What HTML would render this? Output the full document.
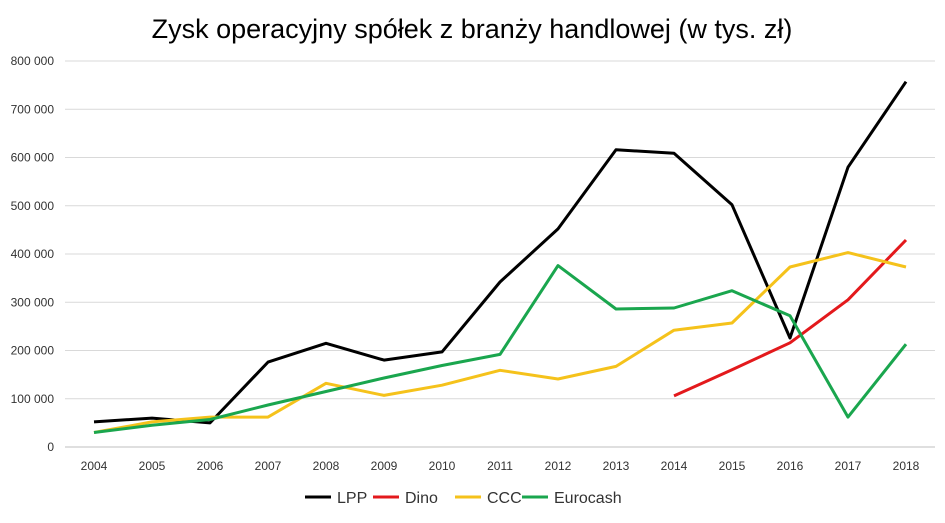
<!DOCTYPE html>
<html><head><meta charset="utf-8"><style>
body{margin:0;background:#fff;font-family:"Liberation Sans",sans-serif;}
svg text{font-family:"Liberation Sans",sans-serif;}
</style></head><body>
<svg id="chart" width="945" height="518" viewBox="0 0 945 518" xmlns="http://www.w3.org/2000/svg">
<text x="472" y="38" text-anchor="middle" font-size="27" fill="#000">Zysk operacyjny spółek z branży handlowej (w tys. zł)</text>
<g id="grid"></g><g id="yticks"></g><g id="xticks"></g><g id="series"></g><g id="legend"></g>
</svg>
<script>
const years=[2004,2005,2006,2007,2008,2009,2010,2011,2012,2013,2014,2015,2016,2017,2018];
const yTicks=[0,100000,200000,300000,400000,500000,600000,700000,800000];
const yTickLabels=["0","100 000","200 000","300 000","400 000","500 000","600 000","700 000","800 000"];
const lpp=[52000,60000,50000,176000,215000,180000,197000,342000,452000,616000,609000,502000,226000,580000,757000];
const dino=[null,null,null,null,null,null,null,null,null,null,106000,160000,216000,305000,429000];
const ccc=[30000,52000,62000,62000,132000,107000,128000,159000,141000,167000,242000,257000,373000,403000,373000];
const eurocash=[30000,45000,57000,87000,115000,143000,169000,192000,376000,286000,288000,324000,272000,62000,213000];
const seriesNames=["LPP","Dino","CCC","Eurocash"];
const seriesColors=["#000000","#e3191c","#f5c21b","#1aa64e"];
const seriesData=[lpp,dino,ccc,eurocash];
const NS="http://www.w3.org/2000/svg";
const X0=65,X1=935,Y0=447,Y1=61;
const step=(X1-X0)/years.length;
const xs=i=>X0+step*(i+0.5);
const ys=v=>Y0-(v/800000)*(Y0-Y1);
function mk(tag,attrs,parent){const e=document.createElementNS(NS,tag);for(const k in attrs)e.setAttribute(k,attrs[k]);parent.appendChild(e);return e;}
const grid=document.getElementById('grid'),yt=document.getElementById('yticks'),xt=document.getElementById('xticks'),sg=document.getElementById('series'),lg=document.getElementById('legend');
yTicks.forEach((v,i)=>{
 const l=mk('line',{x1:X0,x2:X1,y1:ys(v),y2:ys(v),stroke:i==0?'#bfbfbf':'#d9d9d9','stroke-width':1},grid);
 
 
 const t=mk('text',{x:54,y:ys(v)+4,'text-anchor':'end','font-size':12,fill:'#333'},yt);
 t.textContent=yTickLabels[i];
 
 
});
years.forEach((y,i)=>{
 const t=mk('text',{x:xs(i),y:470,'text-anchor':'middle','font-size':12,fill:'#333'},xt);
 t.textContent=y;
 
 
});
seriesData.forEach((d,s)=>{
 let pts=[];d.forEach((v,i)=>{if(v!==null)pts.push(xs(i).toFixed(1)+','+ys(v).toFixed(1));});
 const p=mk('polyline',{points:pts.join(' '),fill:'none',stroke:seriesColors[s],'stroke-width':3,'stroke-linejoin':'round'},sg);
 
 
});
const lx=[305,373,455,522];
seriesNames.forEach((n,s)=>{
 const g=mk('g',{},lg);
 
 
 mk('line',{x1:lx[s],x2:lx[s]+26,y1:497,y2:497,stroke:seriesColors[s],'stroke-width':3},g);
 const t=mk('text',{x:lx[s]+32,y:503,'font-size':16,fill:'#333'},g);t.textContent=n;
});
</script>
</body></html>
